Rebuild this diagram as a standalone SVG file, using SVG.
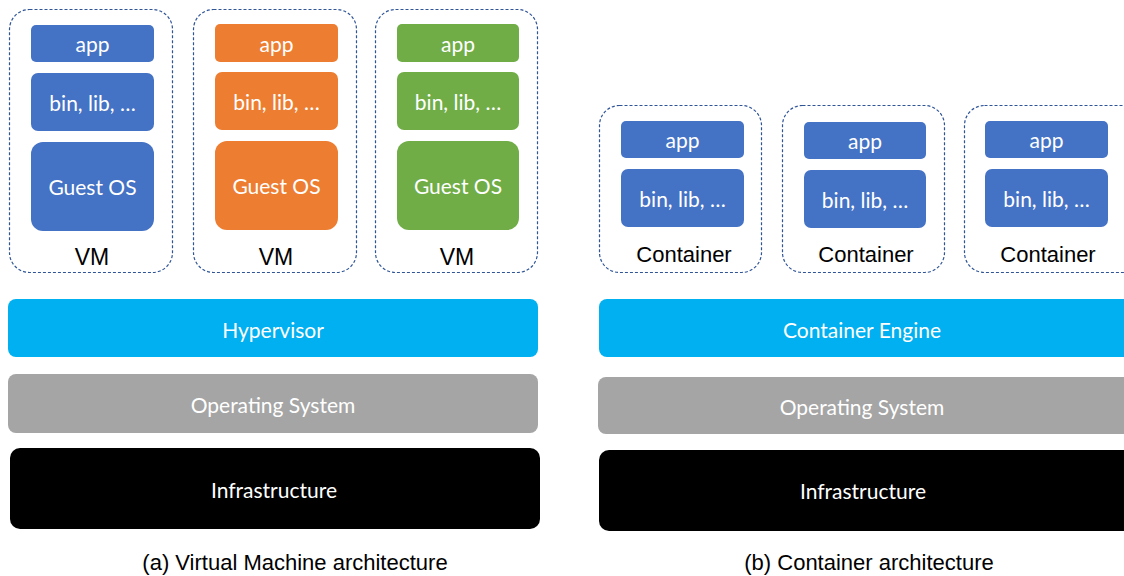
<svg xmlns="http://www.w3.org/2000/svg" width="1124" height="576" viewBox="0 0 1124 576">
<style>
.frame{fill:#fff;stroke:#2F5597;stroke-width:1.2;stroke-dasharray:3 2}
.blue{fill:#4472C4}.orange{fill:#ED7D31}.green{fill:#70AD47}
.hyp{fill:#00B0F0}.os{fill:#A5A5A5}.inf{fill:#000}
.w{fill:#fff;font-family:Lato,"Open Sans",sans-serif;font-size:21px;text-anchor:middle;dominant-baseline:central}
.wl{fill:#fff;font-family:Lato,"Open Sans",sans-serif;font-size:21px;text-anchor:middle;dominant-baseline:central}
.k{fill:#000;font-family:"Liberation Sans",Arial,sans-serif;font-size:22px;text-anchor:middle}
</style>
<rect width="1124" height="576" fill="#fff"/>
<g id="vm1">
<rect class="frame" x="9.5" y="9.5" width="163" height="263" rx="20"/>
<rect class="blue" x="31" y="25" width="123" height="37" rx="5"/><text class="w" x="92.5" y="43.5">app</text>
<rect class="blue" x="31" y="73" width="123" height="58" rx="7"/><text class="w" x="92.5" y="102">bin, lib, …</text>
<rect class="blue" x="31" y="142" width="123" height="89" rx="12"/><text class="w" x="92.5" y="186.5">Guest OS</text>
<text class="k" x="92" y="265" style="font-size:23px">VM</text>
</g>
<g id="vm2">
<rect class="frame" x="193.5" y="9.5" width="163" height="263" rx="20"/>
<rect class="orange" x="215" y="24" width="123" height="38" rx="5"/><text class="w" x="276.5" y="43">app</text>
<rect class="orange" x="215" y="72" width="123" height="58" rx="7"/><text class="w" x="276.5" y="101">bin, lib, …</text>
<rect class="orange" x="215" y="141" width="123" height="89" rx="12"/><text class="w" x="276.5" y="185.5">Guest OS</text>
<text class="k" x="276" y="265" style="font-size:23px">VM</text>
</g>
<g id="vm3">
<rect class="frame" x="375.5" y="9.5" width="162" height="263" rx="20"/>
<rect class="green" x="397" y="24" width="122" height="38" rx="5"/><text class="w" x="458" y="43">app</text>
<rect class="green" x="397" y="72" width="122" height="58" rx="7"/><text class="w" x="458" y="101">bin, lib, …</text>
<rect class="green" x="397" y="141" width="122" height="89" rx="12"/><text class="w" x="458" y="185.5">Guest OS</text>
<text class="k" x="457" y="265" style="font-size:23px">VM</text>
</g>
<g id="c1">
<rect class="frame" x="599.5" y="105.5" width="162" height="167" rx="20"/>
<rect class="blue" x="621" y="121" width="123" height="37" rx="5"/><text class="w" x="682.5" y="139.5">app</text>
<rect class="blue" x="621" y="169" width="123" height="58" rx="7"/><text class="w" x="682.5" y="198">bin, lib, …</text>
<text class="k" x="684" y="262">Container</text>
</g>
<g id="c2">
<rect class="frame" x="782.5" y="105.5" width="162" height="167" rx="20"/>
<rect class="blue" x="804" y="122" width="122" height="37" rx="5"/><text class="w" x="865" y="140.5">app</text>
<rect class="blue" x="804" y="170" width="122" height="58" rx="7"/><text class="w" x="865" y="199">bin, lib, …</text>
<text class="k" x="866" y="262">Container</text>
</g>
<g id="c3">
<rect class="frame" x="964.5" y="105.5" width="180" height="167" rx="20"/>
<rect class="blue" x="985" y="121" width="123" height="37" rx="5"/><text class="w" x="1046.5" y="139.5">app</text>
<rect class="blue" x="985" y="169" width="123" height="58" rx="7"/><text class="w" x="1046.5" y="198">bin, lib, …</text>
<text class="k" x="1048" y="262">Container</text>
</g>
<g id="hypervisor"><rect class="hyp" x="8" y="299" width="530" height="58" rx="8"/><text class="wl" x="273" y="329">Hypervisor</text></g>
<g id="os-a"><rect class="os" x="8" y="374" width="530" height="59" rx="8"/><text class="wl" x="273" y="404">Operating System</text></g>
<g id="infra-a"><rect class="inf" x="10" y="448" width="530" height="81" rx="10"/><text class="wl" x="274" y="489">Infrastructure</text></g>
<g id="engine"><rect class="hyp" x="599" y="299" width="540" height="58" rx="8"/><text class="wl" x="862" y="329">Container Engine</text></g>
<g id="os-b"><rect class="os" x="598" y="377" width="540" height="57" rx="8"/><text class="wl" x="862" y="406">Operating System</text></g>
<g id="infra-b"><rect class="inf" x="599" y="450" width="540" height="81" rx="10"/><text class="wl" x="863" y="490">Infrastructure</text></g>
<g id="connectors"/>
<text class="k" x="295" y="570">(a) Virtual Machine architecture</text>
<text class="k" x="869" y="570">(b) Container architecture</text>
</svg>
